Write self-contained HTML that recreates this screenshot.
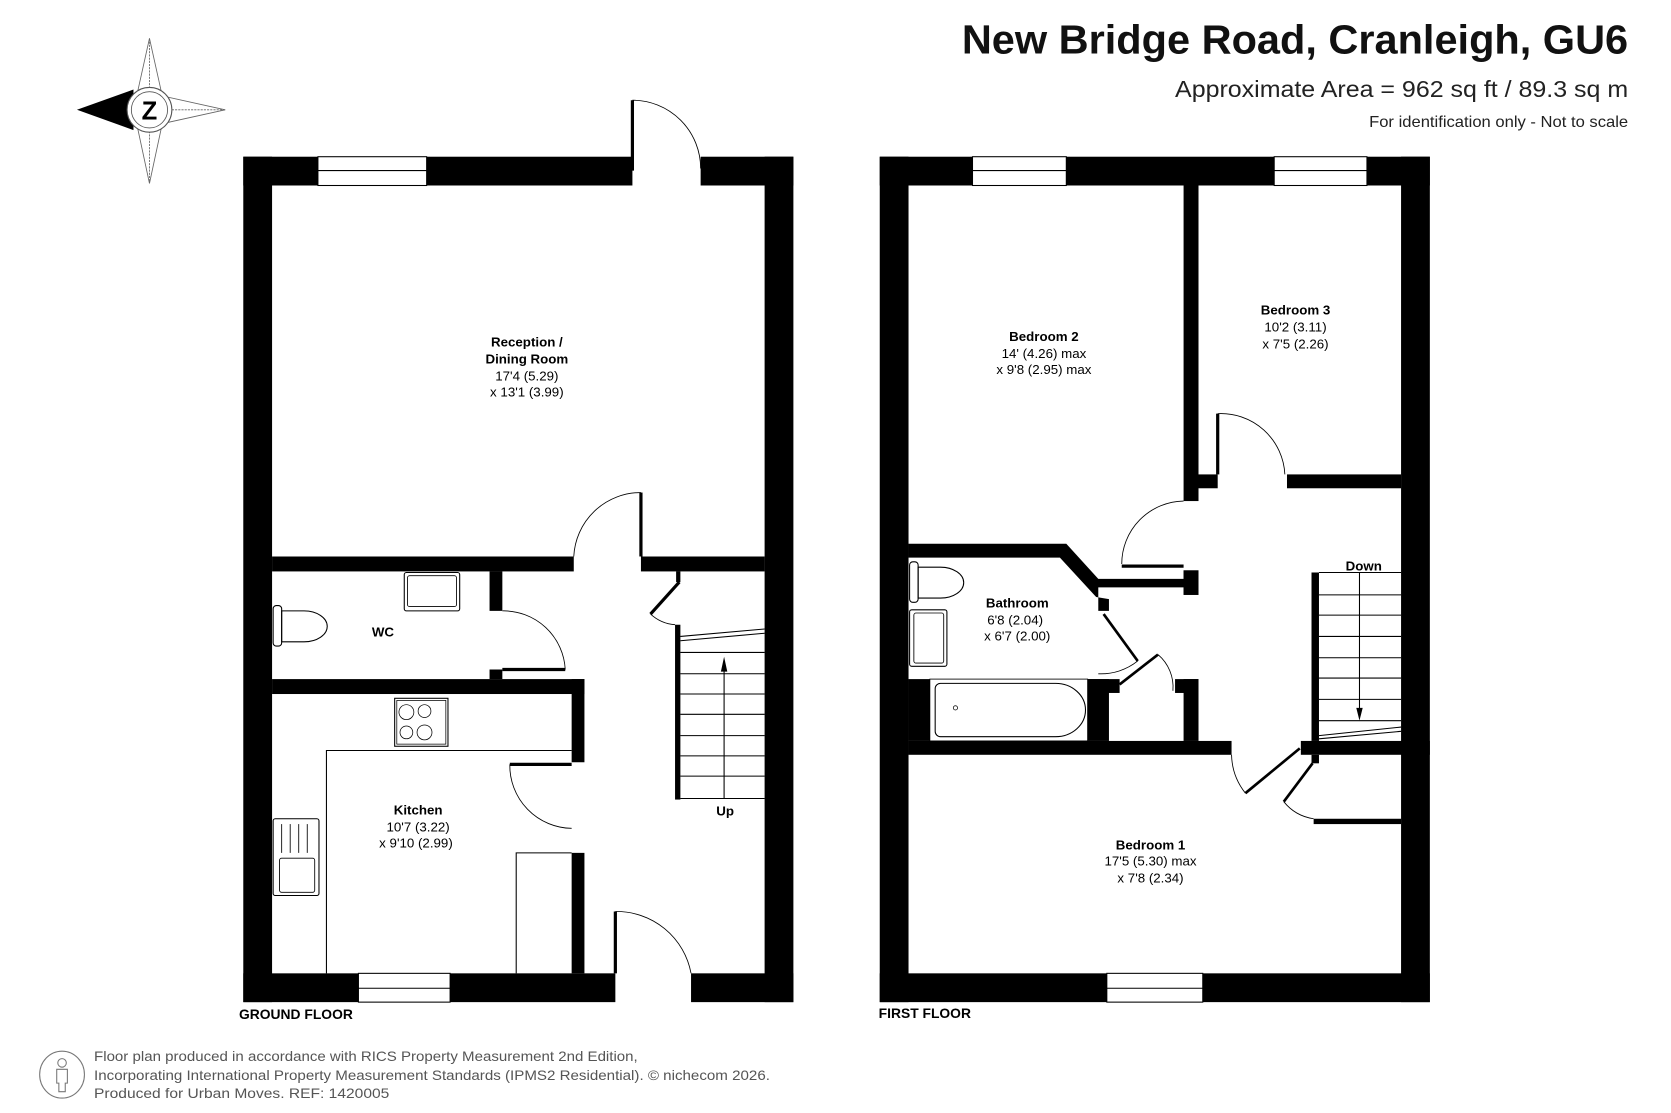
<!DOCTYPE html>
<html><head><meta charset="utf-8"><style>
html,body{margin:0;padding:0;background:#fff;}
svg{display:block;font-family:"Liberation Sans",Arial,sans-serif;}
.b{font-weight:bold;}
</style></head><body>
<svg width="1671" height="1113" viewBox="0 0 1567 1044" xmlns="http://www.w3.org/2000/svg">
<rect width="1567" height="1044" fill="#fff"/>
<!-- Title -->
<text x="902" y="50" textLength="625" lengthAdjust="spacingAndGlyphs" font-size="38" class="b" fill="#111">New Bridge Road, Cranleigh, GU6</text>
<text x="1102" y="91" textLength="425" lengthAdjust="spacingAndGlyphs" font-size="22" fill="#222">Approximate Area = 962 sq ft / 89.3 sq m</text>
<text x="1284" y="119" textLength="243" lengthAdjust="spacingAndGlyphs" font-size="15" fill="#222">For identification only - Not to scale</text>

<!-- Compass -->
<g stroke="#666" stroke-width="0.8" fill="none">
<polygon points="140,36 152,90 211,103 152,116 140,172 128,116 86,103 128,90" fill="#fff"/>
<line x1="140" y1="36" x2="140" y2="172" stroke-dasharray="2,1"/>
<line x1="86" y1="103" x2="211" y2="103" stroke-dasharray="2,1"/>
</g>
<polygon points="72,103 125,84 125,122" fill="#000"/>
<circle cx="140" cy="103" r="21" fill="#fff" stroke="#555" stroke-width="1"/>
<circle cx="140" cy="103" r="17" fill="#fff" stroke="#555" stroke-width="0.8"/>
<text x="140" y="112" text-anchor="middle" font-size="24" class="b" fill="#000">Z</text>

<!-- ===== GROUND FLOOR ===== -->
<g fill="#000">
<rect x="228" y="147" width="70" height="27"/>
<rect x="400" y="147" width="193" height="27"/>
<rect x="657" y="147" width="87" height="27"/>
<rect x="228" y="147" width="27" height="793"/>
<rect x="717" y="147" width="27" height="793"/>
<rect x="228" y="913" width="108" height="27"/>
<rect x="422" y="913" width="155" height="27"/>
<rect x="648" y="913" width="96" height="27"/>
<rect x="255" y="522" width="283" height="14"/>
<rect x="601" y="522" width="116" height="14"/>
<rect x="459" y="536" width="12" height="37"/>
<rect x="459" y="628" width="12" height="9"/>
<rect x="255" y="637" width="293" height="14"/>
<rect x="536" y="637" width="12" height="78"/>
<rect x="536" y="800" width="12" height="113"/>
<rect x="633" y="586" width="5" height="164"/>
<rect x="634" y="536" width="4" height="10"/>
</g>
<g stroke="#000" stroke-width="1" fill="#fff">
<rect x="298" y="147" width="102" height="27"/><line x1="298" y1="160" x2="400" y2="160"/>
<rect x="336" y="913" width="86" height="27"/><line x1="336" y1="927" x2="422" y2="927"/>
</g>
<g stroke="#000" fill="none">
<line x1="593" y1="94" x2="593" y2="160" stroke-width="3"/>
<path d="M593,94 A64,64 0 0 1 657,158" stroke-width="0.8"/>
<line x1="577" y1="855" x2="577" y2="913" stroke-width="3"/>
<path d="M577,855 A71,71 0 0 1 648,913" stroke-width="0.8"/>
<line x1="601" y1="462" x2="601" y2="522" stroke-width="3"/>
<path d="M601,462 A63,63 0 0 0 538,522" stroke-width="0.8"/>
<line x1="471" y1="628" x2="530" y2="628" stroke-width="3"/>
<path d="M471,573 A58,58 0 0 1 530,628" stroke-width="0.8"/>
<line x1="478" y1="717" x2="536" y2="717" stroke-width="3"/>
<path d="M478,717 A59,59 0 0 0 536,777" stroke-width="0.8"/>
<line x1="637" y1="546" x2="610" y2="576" stroke-width="3"/>
<path d="M610,576 A38,38 0 0 0 633,586" stroke-width="0.8"/>
<polyline points="306,913 306,704 536,704" stroke-width="1"/>
<polyline points="484,913 484,800 536,800" stroke-width="1"/>
<g stroke-width="1">
<line x1="638" y1="597" x2="717" y2="590"/>
<line x1="638" y1="601" x2="717" y2="594"/>
<line x1="638" y1="612" x2="717" y2="612"/>
<line x1="638" y1="632" x2="717" y2="632"/>
<line x1="638" y1="651" x2="717" y2="651"/>
<line x1="638" y1="670" x2="717" y2="670"/>
<line x1="638" y1="690" x2="717" y2="690"/>
<line x1="638" y1="709" x2="717" y2="709"/>
<line x1="638" y1="728" x2="717" y2="728"/>
<line x1="638" y1="749" x2="717" y2="749"/>
<line x1="679" y1="749" x2="679" y2="624"/>
</g>
<rect x="370" y="655" width="50" height="45" stroke-width="1"/>
<rect x="372" y="657" width="46" height="41" stroke-width="0.7"/>
<circle cx="381" cy="668" r="7" stroke-width="0.7"/><circle cx="398" cy="667" r="6" stroke-width="0.7"/>
<circle cx="381" cy="687" r="6" stroke-width="0.7"/><circle cx="398" cy="687" r="7" stroke-width="0.7"/>
<rect x="256" y="768" width="43" height="72" rx="2" stroke-width="1"/>
<rect x="262" y="805" width="33" height="32" rx="2" stroke-width="0.8"/>
<g stroke-width="0.8"><line x1="264" y1="773" x2="264" y2="800"/><line x1="272" y1="773" x2="272" y2="800"/><line x1="280" y1="773" x2="280" y2="800"/><line x1="288" y1="773" x2="288" y2="800"/></g>
<rect x="379" y="537" width="52" height="36" rx="2" stroke-width="1"/>
<rect x="382" y="540" width="46" height="29" rx="2" stroke-width="0.8"/>
<rect x="256" y="568" width="8" height="38" rx="3" stroke-width="1"/>
<path d="M264,573 L285,573 A21,14 0 0 1 285,602 L264,602 Z" stroke-width="1"/>
</g>
<polygon points="679,616 676,630 682,630" fill="#000"/>
<text x="494" y="325" text-anchor="middle" font-size="12.5" class="b">Reception /</text>
<text x="494" y="341" text-anchor="middle" font-size="12.5" class="b">Dining Room</text>
<text x="494" y="357" text-anchor="middle" font-size="12.5">17'4 (5.29)</text>
<text x="494" y="372" text-anchor="middle" font-size="12.5">x 13'1 (3.99)</text>
<text x="359" y="597" text-anchor="middle" font-size="12.5" class="b">WC</text>
<text x="392" y="764" text-anchor="middle" font-size="12.5" class="b">Kitchen</text>
<text x="392" y="780" text-anchor="middle" font-size="12.5">10'7 (3.22)</text>
<text x="390" y="795" text-anchor="middle" font-size="12.5">x 9'10 (2.99)</text>
<text x="680" y="765" text-anchor="middle" font-size="12.5" class="b">Up</text>
<text x="224" y="956" font-size="13" class="b">GROUND FLOOR</text>

<!-- ===== FIRST FLOOR ===== -->
<g fill="#000">
<rect x="825" y="147" width="87" height="27"/>
<rect x="1000" y="147" width="195" height="27"/>
<rect x="1282" y="147" width="59" height="27"/>
<rect x="825" y="147" width="27" height="793"/>
<rect x="1314" y="147" width="27" height="793"/>
<rect x="825" y="913" width="213" height="27"/>
<rect x="1128" y="913" width="213" height="27"/>
<rect x="1110" y="174" width="14" height="296"/>
<rect x="1124" y="445" width="18" height="13"/>
<rect x="1207" y="445" width="107" height="13"/>
<polygon points="852,510 1000,510 1030,543 1110,543 1110,535 1124,535 1124,558 1110,558 1110,551 1030,551 1030,573 1040,573 1040,562 1028,560 994,523 852,523"/>
<rect x="1110" y="535" width="14" height="23"/>
<rect x="852" y="637" width="20" height="58"/>
<rect x="1020" y="637" width="30" height="13"/>
<rect x="1110" y="637" width="14" height="58"/>
<rect x="1102" y="637" width="22" height="13"/>
<rect x="852" y="695" width="303" height="13"/>
<rect x="1220" y="695" width="121" height="13"/>
<rect x="1230" y="708" width="7" height="8"/>
<rect x="1230" y="537" width="7" height="158"/>
<rect x="1232" y="768" width="82" height="5"/>
<rect x="1020" y="637" width="20" height="58"/>
</g>
<g stroke="#000" stroke-width="1" fill="#fff">
<rect x="912" y="147" width="88" height="27"/><line x1="912" y1="160" x2="1000" y2="160"/>
<rect x="1195" y="147" width="87" height="27"/><line x1="1195" y1="160" x2="1282" y2="160"/>
<rect x="1038" y="913" width="90" height="27"/><line x1="1038" y1="927" x2="1128" y2="927"/>
</g>
<g stroke="#000" fill="none">
<line x1="1142" y1="388" x2="1142" y2="445" stroke-width="3"/>
<path d="M1142,388 A60,60 0 0 1 1205,445" stroke-width="0.8"/>
<line x1="1052" y1="531" x2="1110" y2="531" stroke-width="3"/>
<path d="M1110,470 A59,59 0 0 0 1052,529" stroke-width="0.8"/>
<line x1="1035" y1="576" x2="1067" y2="620" stroke-width="2.5"/>
<path d="M1067,620 A55,55 0 0 1 1030,632" stroke-width="0.8"/>
<line x1="1050" y1="642" x2="1086" y2="614" stroke-width="2.5"/>
<path d="M1086,614 A40,40 0 0 1 1100,648" stroke-width="0.8"/>
<line x1="1168" y1="744" x2="1219" y2="702" stroke-width="2.5"/>
<path d="M1155,708 A60,60 0 0 0 1168,744" stroke-width="0.8"/>
<line x1="1231" y1="716" x2="1204" y2="752" stroke-width="2.5"/>
<path d="M1204,752 A44,44 0 0 0 1232,768" stroke-width="0.8"/>
<g stroke-width="1">
<line x1="1237" y1="537" x2="1314" y2="537"/>
<line x1="1237" y1="558" x2="1314" y2="558"/>
<line x1="1237" y1="577" x2="1314" y2="577"/>
<line x1="1237" y1="597" x2="1314" y2="597"/>
<line x1="1237" y1="617" x2="1314" y2="617"/>
<line x1="1237" y1="636" x2="1314" y2="636"/>
<line x1="1237" y1="656" x2="1314" y2="656"/>
<line x1="1237" y1="676" x2="1314" y2="676"/>
<line x1="1237" y1="690" x2="1314" y2="682"/>
<line x1="1237" y1="693" x2="1314" y2="686"/>
<line x1="1275" y1="537" x2="1275" y2="665"/>
</g>
<rect x="872" y="637" width="148" height="58" stroke-width="0.8"/>
<path d="M882,641 L990,641 A28,25 0 0 1 990,691 L882,691 A5,5 0 0 1 877,686 L877,646 A5,5 0 0 1 882,641 Z" stroke-width="1"/>
<circle cx="896" cy="664" r="2" stroke-width="0.7"/>
<rect x="853" y="572" width="35" height="53" rx="2" stroke-width="1"/>
<rect x="857" y="575" width="28" height="47" rx="2" stroke-width="0.8"/>
<rect x="853" y="527" width="8" height="38" rx="3" stroke-width="1"/>
<path d="M861,532 L882,532 A21,14 0 0 1 882,561 L861,561 Z" stroke-width="1"/>
</g>
<polygon points="1275,676 1272,664 1278,664" fill="#000"/>
<g font-size="12.5" text-anchor="middle">
<text x="979" y="320" class="b">Bedroom 2</text>
<text x="979" y="336">14' (4.26) max</text>
<text x="979" y="351">x 9'8 (2.95) max</text>
<text x="1215" y="295" class="b">Bedroom 3</text>
<text x="1215" y="311">10'2 (3.11)</text>
<text x="1215" y="327">x 7'5 (2.26)</text>
<text x="954" y="570" class="b">Bathroom</text>
<text x="952" y="586">6'8 (2.04)</text>
<text x="954" y="601">x 6'7 (2.00)</text>
<text x="1279" y="535" class="b">Down</text>
<text x="1079" y="797" class="b">Bedroom 1</text>
<text x="1079" y="812">17'5 (5.30) max</text>
<text x="1079" y="828">x 7'8 (2.34)</text>
</g>
<text x="824" y="955" font-size="13" class="b">FIRST FLOOR</text>

<!-- Footer -->
<ellipse cx="58" cy="1008" rx="21" ry="22" fill="none" stroke="#777" stroke-width="1"/>
<circle cx="58" cy="997" r="4" fill="none" stroke="#777"/>
<path d="M53,1003 L63,1003 L63,1016 L61,1016 L61,1024 L55,1024 L55,1016 L53,1016 Z" fill="none" stroke="#777"/>
<g font-size="13" fill="#555">
<text x="88" y="995" textLength="510" lengthAdjust="spacingAndGlyphs">Floor plan produced in accordance with RICS Property Measurement 2nd Edition,</text>
<text x="88" y="1013" textLength="634" lengthAdjust="spacingAndGlyphs">Incorporating International Property Measurement Standards (IPMS2 Residential).   © nichecom 2026.</text>
<text x="88" y="1030" textLength="277" lengthAdjust="spacingAndGlyphs">Produced for Urban Moves.   REF: 1420005</text>
</g>
</svg>
</body></html>
